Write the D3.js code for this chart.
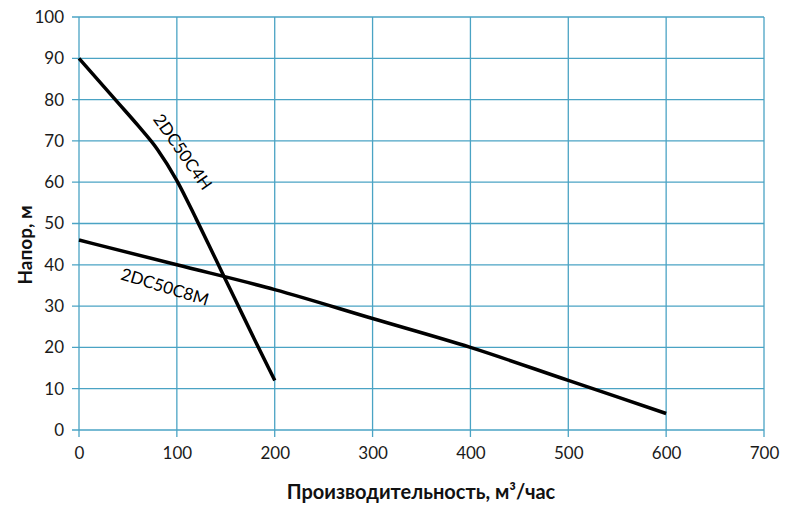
<!DOCTYPE html>
<html><head><meta charset="utf-8">
<script src="https://cdn.jsdelivr.net/npm/d3@7"></script>
<style>body{margin:0;background:#fff}svg{display:block}</style>
</head><body>
<svg id="c" width="800" height="512"></svg>
<script>
const xTicks = [0,100,200,300,400,500,600,700];
const yTicks = [0,10,20,30,40,50,60,70,80,90,100];
const s4H_x = [0,20,40,60,80,100,120,140,160,180,200];
const s4H_y = [90,84.6,79.2,73.8,68.0,60.4,51.0,41.2,31.4,21.6,12];
const s8M_x = [0,100,200,300,400,500,600];
const s8M_y = [46,40,34,27,20,12,4];
const seriesNames = ["2DC50C4H","2DC50C8M"];
const xTitle = "Производительность, м³/час";
const yTitle = "Напор, м";

const svg = d3.select("#c");
const m = {l:79,r:36,t:17,b:82};
const W=800,H=512;
const x = d3.scaleLinear().domain([0,700]).range([m.l, W-m.r]);
const y = d3.scaleLinear().domain([0,100]).range([H-m.b, m.t]);
const grid="#4aa3c4";
const font="Lato, 'Open Sans', sans-serif";

svg.append("g").selectAll("line").data(xTicks).join("line")
  .attr("x1",d=>x(d)).attr("x2",d=>x(d)).attr("y1",y(100)).attr("y2",y(0)+7)
  .attr("stroke",grid).attr("stroke-width",1.3);
svg.append("g").selectAll("line").data(yTicks).join("line")
  .attr("x1",x(0)-7).attr("x2",x(700)).attr("y1",d=>y(d)).attr("y2",d=>y(d))
  .attr("stroke",grid).attr("stroke-width",1.3);

const xa = svg.append("g").attr("transform",`translate(0,${y(0)})`)
  .call(d3.axisBottom(x).tickValues(xTicks).tickSize(0).tickPadding(17));
const ya = svg.append("g").attr("transform",`translate(${x(0)},0)`)
  .call(d3.axisLeft(y).tickValues(yTicks).tickSize(0).tickPadding(15));
[xa,ya].forEach(a=>{a.select(".domain").remove();
  a.selectAll("text").attr("font-family",font).attr("font-size",17).attr("fill","#1a1a1a");});

const line = d3.line().x(d=>x(d[0])).y(d=>y(d[1])).curve(d3.curveMonotoneX);
const d4 = s4H_x.map((v,i)=>[v,s4H_y[i]]);
const d8 = s8M_x.map((v,i)=>[v,s8M_y[i]]);
[d4,d8].forEach(d=>svg.append("path").attr("d",line(d)).attr("fill","none")
  .attr("stroke","#000").attr("stroke-width",3.5).attr("stroke-linecap","butt"));

svg.append("text").attr("transform",`translate(${x(101)},${y(66.5)}) rotate(55)`)
  .attr("text-anchor","middle").attr("font-family",font).attr("font-size",17)
  .text(seriesNames[0]);
svg.append("text").attr("transform",`translate(${x(86)},${y(33.3)}) rotate(17)`)
  .attr("text-anchor","middle").attr("font-family",font).attr("font-size",17)
  .text(seriesNames[1]);

svg.append("text").attr("x",421).attr("y",499).attr("text-anchor","middle")
  .attr("font-family",font).attr("font-weight","bold").attr("font-size",20).attr("fill","#111")
  .text(xTitle);
svg.append("text").attr("transform","translate(32,245) rotate(-90)").attr("text-anchor","middle")
  .attr("font-family",font).attr("font-weight","bold").attr("font-size",19).attr("fill","#111")
  .text(yTitle);
</script>
</body></html>
